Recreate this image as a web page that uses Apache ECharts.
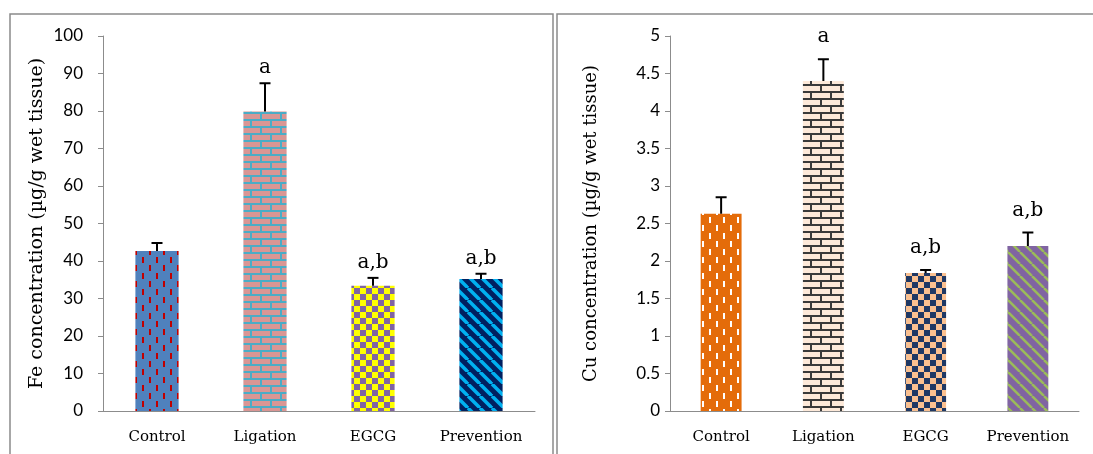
<!DOCTYPE html>
<html>
<head>
    <meta charset="UTF-8">
    <title>Fe / Cu concentration</title>
    <script src="https://cdn.jsdelivr.net/npm/echarts@6/dist/echarts.min.js"></script>
    <style>
        html, body { margin: 0; padding: 0; background: #fff; }
    </style>
</head>
<body>
<div id="main" style="width: 1093px;height:454px;"></div>
<script type="text/javascript">
    // data
    var categories = ['Control', 'Ligation', 'EGCG', 'Prevention'];
    var feMeans = [42.7, 79.9, 33.4, 35.2];
    var feErrors = [2.1, 7.5, 2.1, 1.4];
    var feLetters = ['', 'a', 'a,b', 'a,b'];
    var cuMeans = [2.63, 4.40, 1.84, 2.20];
    var cuErrors = [0.22, 0.29, 0.04, 0.18];
    var cuLetters = ['', 'a', 'a,b', 'a,b'];
    var feTicks = [0, 100, 10];
    var cuTicks = [0, 5, 0.5];

    // small canvas tiles used as bar fills
    function tile(w, h, draw) {
        var c = document.createElement('canvas');
        c.width = w;
        c.height = h;
        draw(c.getContext('2d'), w, h);
        return {image: c, repeat: 'repeat'};
    }
    function dashes(bg, fg) {
        return tile(14, 16, function (ctx, w, h) {
            ctx.fillStyle = bg;
            ctx.fillRect(0, 0, w, h);
            ctx.fillStyle = fg;
            ctx.fillRect(2, 1, 2, 6);
            ctx.fillRect(9, 9, 2, 6);
        });
    }
    function bricks(bg, fg) {
        return tile(20, 14, function (ctx, w, h) {
            ctx.fillStyle = bg;
            ctx.fillRect(0, 0, w, h);
            ctx.fillStyle = fg;
            ctx.fillRect(0, 0, w, 2);
            ctx.fillRect(0, 7, w, 2);
            ctx.fillRect(0, 0, 2, 7);
            ctx.fillRect(10, 7, 2, 7);
        });
    }
    function checker(a, b) {
        return tile(12, 12, function (ctx, w, h) {
            ctx.fillStyle = a;
            ctx.fillRect(0, 0, w, h);
            ctx.fillStyle = b;
            ctx.fillRect(6, 0, 6, 6);
            ctx.fillRect(0, 6, 6, 6);
        });
    }
    function stripes(bg, fg, lw) {
        return tile(12, 12, function (ctx, w, h) {
            ctx.fillStyle = bg;
            ctx.fillRect(0, 0, w, h);
            ctx.strokeStyle = fg;
            ctx.lineWidth = lw;
            [-w, 0, w].forEach(function (o) {
                ctx.beginPath();
                ctx.moveTo(o, 0);
                ctx.lineTo(o + w, h);
                ctx.stroke();
            });
        });
    }

    var feFills = [
        dashes('#4f81bd', '#c00000'),
        bricks('#d99694', '#4bacc6'),
        checker('#ffff00', '#8064a2'),
        stripes('#002060', '#00b0f0', 3.5)
    ];
    var cuFills = [
        dashes('#e46c0a', '#ffffff'),
        bricks('#fde9d9', '#3a3a3a'),
        checker('#fac090', '#1f3864'),
        stripes('#8064a2', '#9bbb59', 2.5)
    ];

    var axisGrey = '#8c8c8c';

    function barData(means, fills) {
        return means.map(function (v, i) {
            return {value: v, itemStyle: {color: fills[i]}};
        });
    }

    function errorSeries(idx, means, errors, letters, gap) {
        return {
            type: 'custom',
            xAxisIndex: idx,
            yAxisIndex: idx,
            z: 5,
            data: means.map(function (m, i) {
                return [i, m, m + errors[i], letters[i]];
            }),
            encode: {x: 0, y: 2},
            renderItem: function (params, api) {
                var base = api.coord([api.value(0), api.value(1)]);
                var top = api.coord([api.value(0), api.value(2)]);
                var style = {stroke: '#000', lineWidth: 2};
                return {
                    type: 'group',
                    children: [
                        {type: 'line', shape: {x1: base[0], y1: base[1], x2: top[0], y2: top[1]}, style: style},
                        {type: 'line', shape: {x1: top[0] - 5.5, y1: top[1], x2: top[0] + 5.5, y2: top[1]}, style: style},
                        {
                            type: 'text',
                            style: {
                                text: letters[params.dataIndex],
                                x: top[0],
                                y: top[1] - gap,
                                align: 'center',
                                verticalAlign: 'middle',
                                font: '20px "DejaVu Serif"',
                                fill: '#000'
                            }
                        }
                    ]
                };
            }
        };
    }

    function yAxis(idx, ticks, name, nameSize, gap, labelMargin) {
        return {
            gridIndex: idx,
            type: 'value',
            min: ticks[0],
            max: ticks[1],
            interval: ticks[2],
            name: name,
            nameLocation: 'middle',
            nameGap: gap,
            nameTextStyle: {fontFamily: 'DejaVu Serif', fontSize: nameSize, color: '#000'},
            axisLine: {show: true, lineStyle: {color: axisGrey, width: 1}},
            axisTick: {show: true, length: 5, lineStyle: {color: axisGrey}},
            axisLabel: {margin: labelMargin, fontFamily: 'Lato', fontSize: 17, color: '#000'},
            splitLine: {show: false}
        };
    }

    function xAxis(idx) {
        return {
            gridIndex: idx,
            type: 'category',
            data: categories,
            axisLine: {lineStyle: {color: axisGrey, width: 1}},
            axisTick: {length: 5, lineStyle: {color: axisGrey}},
            axisLabel: {interval: 0, margin: 19, fontFamily: 'DejaVu Serif', fontSize: 15, color: '#000'}
        };
    }

    var myChart = echarts.init(document.getElementById('main'));
    var option = {
        animation: false,
        backgroundColor: '#fff',
        graphic: [
            {type: 'rect', shape: {x: 10, y: 14, width: 543, height: 460}, style: {fill: 'none', stroke: '#8a8a8a', lineWidth: 1.5}},
            {type: 'rect', shape: {x: 557, y: 14, width: 560, height: 460}, style: {fill: 'none', stroke: '#8a8a8a', lineWidth: 1.5}}
        ],
        grid: [
            {left: 103, top: 36, width: 432, height: 375},
            {left: 670, top: 36, width: 409, height: 375}
        ],
        xAxis: [xAxis(0), xAxis(1)],
        yAxis: [
            yAxis(0, feTicks, 'Fe concentration (µg/g wet tissue)', 19, 56, 20),
            yAxis(1, cuTicks, 'Cu concentration (µg/g wet tissue)', 18, 70, 10)
        ],
        series: [
            {type: 'bar', xAxisIndex: 0, yAxisIndex: 0, barWidth: '40%', data: barData(feMeans, feFills)},
            {type: 'bar', xAxisIndex: 1, yAxisIndex: 1, barWidth: '40%', data: barData(cuMeans, cuFills)},
            errorSeries(0, feMeans, feErrors, feLetters, 15),
            errorSeries(1, cuMeans, cuErrors, cuLetters, 22)
        ]
    };
    myChart.setOption(option);
</script>
</body>
</html>
